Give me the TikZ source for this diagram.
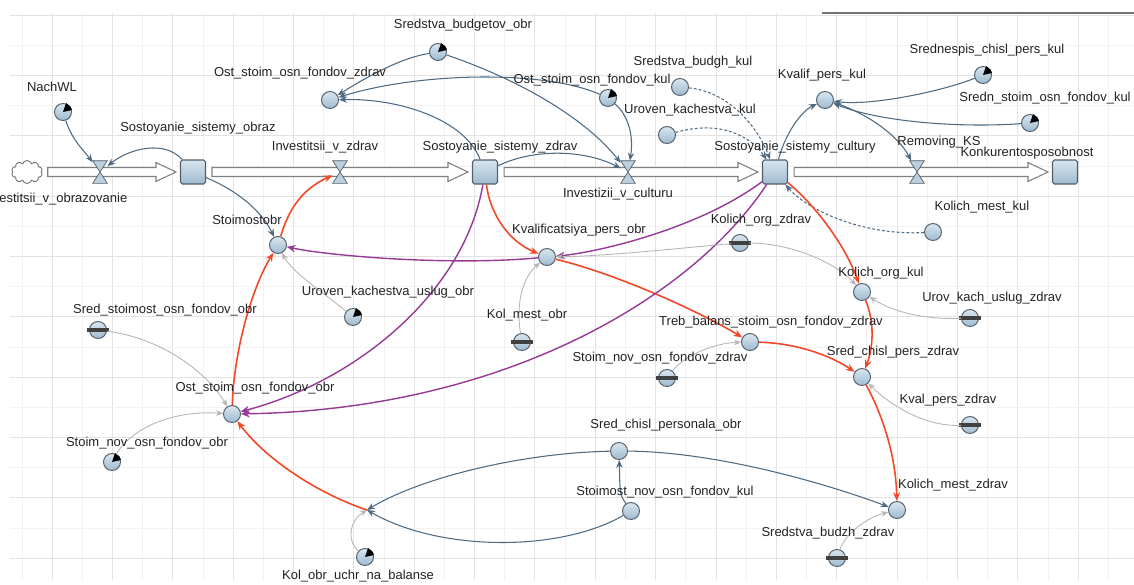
\documentclass[tikz,border=0pt]{standalone}
\usepackage{fontspec}
\setmainfont{Liberation Sans}
\usepackage{tikz}
\usetikzlibrary{arrows.meta,calc,shapes.symbols}
\definecolor{linkblue}{RGB}{78,106,130}
\definecolor{linkred}{RGB}{242,72,40}
\definecolor{linkpurple}{RGB}{150,58,150}
\definecolor{linkgrey}{RGB}{182,182,182}
\definecolor{auxtop}{RGB}{216,230,240}
\definecolor{auxbot}{RGB}{158,186,208}
\definecolor{edgegrey}{RGB}{85,95,105}
\definecolor{labelgrey}{RGB}{35,35,35}
\colorlet{valvefill}{auxbot!70!white}
\colorlet{gridmajc}{black!11}
\colorlet{gridminc}{black!5}
\tikzstyle{aux}=[circle,draw=edgegrey,line width=0.55pt,top color=auxtop,bottom color=auxbot,minimum size=0.34cm,inner sep=0pt]
\tikzstyle{stock}=[rectangle,rounded corners=1pt,draw=edgegrey,line width=0.6pt,top color=auxtop,bottom color=auxbot,minimum width=0.5cm,minimum height=0.48cm,inner sep=0pt]
\tikzstyle{valve}=[rectangle,minimum width=0.28cm,minimum height=0.44cm,inner sep=0pt]
\tikzstyle{lbl}=[inner sep=0pt,text=labelgrey,font=\fontsize{7.4}{8}\selectfont]
\tikzstyle{pipe}=[draw=black!50,fill=white,line width=0.6pt,line join=miter]
\tikzstyle{gridmaj}=[draw=gridmajc,line width=0.4pt]
\tikzstyle{gridmin}=[draw=gridminc,line width=0.3pt]
\tikzstyle{lnk}=[color=linkblue,line width=0.6pt,-{Stealth[length=4.5pt,width=3.6pt]}]
\tikzstyle{dlnk}=[lnk,dash pattern=on 1.6pt off 1.2pt]
\tikzstyle{rlnk}=[color=linkred,line width=0.9pt,-{Stealth[length=5pt,width=4pt]}]
\tikzstyle{plnk}=[color=linkpurple,line width=0.8pt,-{Stealth[length=5pt,width=4.2pt]}]
\tikzstyle{glnk}=[color=linkgrey,line width=0.5pt,-{Stealth[length=4pt,width=3.2pt]}]
% marks on the variables
\newcommand{\dynmark}[1]{\fill[black] (#1.center) -- +(9,-2) -- +(7.5,-5.5) -- +(3,-9) -- cycle;}
\newcommand{\parmbar}[1]{\draw[black!75,line width=2.1pt] ($(#1.center)+(-11,0)$) -- ($(#1.center)+(11,0)$);}
\newcommand{\hourglass}[1]{\filldraw[fill=valvefill,draw=edgegrey,line width=0.4pt] (#1.north west) -- (#1.north east) -- (#1.south west) -- (#1.south east) -- cycle;}
\newcommand{\flowpipe}[2]{%
  \draw[pipe] ($(#1.east)+(6,-4.5)$) -- ($(#2.west)+(-24,-4.5)$) -- ($(#2.west)+(-24,-9.5)$) -- ($(#2.west)+(-4,0)$) -- ($(#2.west)+(-24,9.5)$) -- ($(#2.west)+(-24,4.5)$) -- ($(#1.east)+(6,4.5)$) -- cycle;}

\begin{document}
\begin{tikzpicture}[x=0.02cm,y=-0.02cm]
\fill[white] (0,0) rectangle (1134,585);
\useasboundingbox (0,0) rectangle (1134,585);
% grid
\begin{scope}
\clip (10,13) rectangle (1134,580);
\foreach \i in {-1,...,17} {
  \draw[gridmin] ({82.17+60.35*\i},13) -- ({82.17+60.35*\i},580);
  \draw[gridmaj] ({52+60.35*\i},13) -- ({52+60.35*\i},580);}
\foreach \j in {0,...,9} {
  \draw[gridmin] (10,{45.17+60.35*\j}) -- (1134,{45.17+60.35*\j});
  \draw[gridmaj] (10,{15+60.35*\j}) -- (1134,{15+60.35*\j});}
\end{scope}
\draw[black!55,line width=1.2pt] (822,13) -- (1134,13);

% stocks and flows
\node[cloud,cloud puffs=10,aspect=1.4,draw=black!55,fill=white,line width=0.5pt,minimum width=0.62cm,minimum height=0.46cm,inner sep=0pt] (src) at (27,172) {};
\node[stock] (obraz) at (193,172) {};
\node[stock] (zdrav) at (485,172) {};
\node[stock] (cult) at (775,172) {};
\node[stock] (konk) at (1065,172) {};
\flowpipe{src}{obraz}
\flowpipe{obraz}{zdrav}
\flowpipe{zdrav}{cult}
\flowpipe{cult}{konk}
\node[valve] (vObr) at (100,172) {}; \hourglass{vObr}
\node[valve] (vZdr) at (340,172) {}; \hourglass{vZdr}
\node[valve] (vCult) at (628,172) {}; \hourglass{vCult}
\node[valve] (vKS) at (917,172) {}; \hourglass{vKS}

% variables
\node[aux] (nachwl) at (63,112) {}; \dynmark{nachwl}
\node[aux] (stoimobr) at (278,245) {};
\node[aux] (urovUslObr) at (353,317) {}; \dynmark{urovUslObr}
\node[aux] (ostZdr) at (330,100) {};
\node[aux] (sredBudObr) at (438,52) {}; \dynmark{sredBudObr}
\node[aux] (ostKul) at (608,98) {}; \dynmark{ostKul}
\node[aux] (sredBudKul) at (680,87) {};
\node[aux] (urovKul) at (667,135) {};
\node[aux] (kvalKul) at (825,100) {};
\node[aux] (srednespis) at (983,75) {}; \dynmark{srednespis}
\node[aux] (srednStoim) at (1030,123) {}; \dynmark{srednStoim}
\node[aux] (kolMestKul) at (933,232) {};
\node[aux] (kolOrgZdr) at (740,243) {}; \parmbar{kolOrgZdr}
\node[aux] (kolOrgKul) at (862,292) {};
\node[aux] (urovKachZdr) at (970,318) {}; \parmbar{urovKachZdr}
\node[aux] (trebBal) at (750,342) {};
\node[aux] (stoimNovZdr) at (667,378) {}; \parmbar{stoimNovZdr}
\node[aux] (sredChislZdr) at (862,377) {};
\node[aux] (kvalPersZdr) at (970,425) {}; \parmbar{kvalPersZdr}
\node[aux] (kolMestZdr) at (897,510) {};
\node[aux] (sredBudZdr) at (837,558) {}; \parmbar{sredBudZdr}
\node[aux] (kvalObr) at (547,257) {};
\node[aux] (kolMestObr) at (522,342) {}; \parmbar{kolMestObr}
\node[aux] (sredStoimObr) at (98,330) {}; \parmbar{sredStoimObr}
\node[aux] (ostObr) at (232,414) {};
\node[aux] (stoimNovObr) at (112,462) {}; \dynmark{stoimNovObr}
\node[aux] (kolBal) at (365,557) {}; \dynmark{kolBal}
\node[aux] (sredChislObr) at (619,451) {};
\node[aux] (stoimNovKul) at (631,511) {};
\coordinate (junction) at (367,510);

% links
\draw[lnk] (nachwl) .. controls (72,140) and (85,152) .. (vObr);
\draw[lnk] (obraz) .. controls (165,140) and (130,148) .. (vObr);
\draw[lnk] (obraz) .. controls (240,192) and (262,212) .. (stoimobr);
\draw[lnk] (sredBudObr) .. controls (400,58) and (365,78) .. (ostZdr);
\draw[lnk] (ostKul) .. controls (545,70) and (420,72) .. (ostZdr);
\draw[lnk] (zdrav) .. controls (465,120) and (400,98) .. (ostZdr);
\draw[lnk] (zdrav) .. controls (535,148) and (585,150) .. (vCult);
\draw[lnk] (sredBudObr) .. controls (520,80) and (585,118) .. (vCult);
\draw[lnk] (ostKul) .. controls (628,115) and (634,135) .. (vCult);
\draw[dlnk] (sredBudKul) .. controls (730,92) and (758,128) .. (cult);
\draw[dlnk] (urovKul) .. controls (718,120) and (750,135) .. (cult);
\draw[lnk] (cult) .. controls (785,135) and (800,112) .. (kvalKul);
\draw[lnk] (srednespis) .. controls (940,92) and (870,106) .. (kvalKul);
\draw[lnk] (srednStoim) .. controls (960,128) and (880,122) .. (kvalKul);
\draw[lnk] (kvalKul) .. controls (865,112) and (898,135) .. (vKS);
\draw[dlnk] (kolMestKul) .. controls (860,236) and (805,208) .. (cult);
\draw[lnk] (sredChislObr) .. controls (520,453) and (420,478) .. (junction);
\draw[lnk] (stoimNovKul) .. controls (560,552) and (440,552) .. (junction);
\draw[lnk] (stoimNovKul) .. controls (620,495) .. (sredChislObr);
\draw[lnk] (sredChislObr) .. controls (720,452) and (830,485) .. (kolMestZdr);
\draw[rlnk] (stoimobr) .. controls (288,212) and (300,190) .. (vZdr);
\draw[rlnk] (ostObr) .. controls (234,350) and (252,288) .. (stoimobr);
\draw[rlnk] (junction) .. controls (322,495) and (268,462) .. (ostObr);
\draw[rlnk] (zdrav) .. controls (490,215) and (510,242) .. (kvalObr);
\draw[rlnk] (kvalObr) .. controls (620,275) and (700,312) .. (trebBal);
\draw[rlnk] (trebBal) .. controls (795,343) and (830,355) .. (sredChislZdr);
\draw[rlnk] (cult) .. controls (815,205) and (845,245) .. (kolOrgKul);
\draw[rlnk] (kolOrgKul) .. controls (874,320) and (874,345) .. (sredChislZdr);
\draw[rlnk] (sredChislZdr) .. controls (885,420) and (896,460) .. (kolMestZdr);
\draw[plnk] (cult) .. controls (700,228) and (600,252) .. (kvalObr);
\draw[plnk] (kvalObr) .. controls (450,266) and (330,256) .. (stoimobr);
\draw[plnk] (zdrav) .. controls (465,290) and (360,380) .. (ostObr);
\draw[plnk] (cult) .. controls (690,300) and (500,410) .. (ostObr);
\draw[glnk] (urovUslObr) .. controls (320,290) and (292,272) .. (stoimobr);
\draw[glnk] (kolMestObr) .. controls (515,300) and (525,275) .. (kvalObr);
\draw[glnk] (kolOrgZdr) .. controls (680,248) and (610,256) .. (kvalObr);
\draw[glnk] (kolOrgZdr) .. controls (790,243) and (835,262) .. (kolOrgKul);
\draw[glnk] (urovKachZdr) .. controls (920,320) and (890,310) .. (kolOrgKul);
\draw[glnk] (stoimNovZdr) .. controls (685,355) and (715,343) .. (trebBal);
\draw[glnk] (kvalPersZdr) .. controls (925,427) and (890,405) .. (sredChislZdr);
\draw[glnk] (sredBudZdr) .. controls (845,535) and (865,518) .. (kolMestZdr);
\draw[glnk] (sredStoimObr) .. controls (160,338) and (205,370) .. (ostObr);
\draw[glnk] (stoimNovObr) .. controls (130,430) and (170,410) .. (ostObr);
\draw[glnk] (kolBal) .. controls (346,540) and (350,520) .. (junction);

% labels
\node[lbl,anchor=west] (tInvObr) at (-1,199) {estitsii\_v\_obrazovanie};
\node[lbl] (tNachWL) at (52,87) {NachWL};
\node[lbl] (tSostObr) at (198,128) {Sostoyanie\_sistemy\_obraz};
\node[lbl] (tInvZdr) at (325,147) {Investitsii\_v\_zdrav};
\node[lbl] (tStoimobr) at (247,220) {Stoimostobr};
\node[lbl] (tUrovUslObr) at (388,292) {Uroven\_kachestva\_uslug\_obr};
\node[lbl] (tOstZdr) at (300,73) {Ost\_stoim\_osn\_fondov\_zdrav};
\node[lbl] (tSredBudObr) at (463,25) {Sredstva\_budgetov\_obr};
\node[lbl] (tOstKul) at (592,80) {Ost\_stoim\_osn\_fondov\_kul};
\node[lbl] (tSredBudKul) at (693,62) {Sredstva\_budgh\_kul};
\node[lbl] (tUrovKul) at (690,110) {Uroven\_kachestva\_kul};
\node[lbl] (tSostZdr) at (500,147) {Sostoyanie\_sistemy\_zdrav};
\node[lbl] (tInvCult) at (618,194) {Investizii\_v\_culturu};
\node[lbl] (tSostCult) at (795,147) {Sostoyanie\_sistemy\_cultury};
\node[lbl] (tKvalKul) at (822,75) {Kvalif\_pers\_kul};
\node[lbl] (tSrednespis) at (987,50) {Srednespis\_chisl\_pers\_kul};
\node[lbl] (tSrednStoim) at (1045,98) {Sredn\_stoim\_osn\_fondov\_kul};
\node[lbl] (tRemKS) at (939,142) {Removing\_KS};
\node[lbl] (tKonk) at (1027,153) {Konkurentosposobnost};
\node[lbl] (tKolMestKul) at (982,207) {Kolich\_mest\_kul};
\node[lbl] (tKolOrgZdr) at (761,220) {Kolich\_org\_zdrav};
\node[lbl] (tKolOrgKul) at (881,273) {Kolich\_org\_kul};
\node[lbl] (tUrovKachZdr) at (992,298) {Urov\_kach\_uslug\_zdrav};
\node[lbl] (tTrebBal) at (771,322) {Treb\_balans\_stoim\_osn\_fondov\_zdrav};
\node[lbl] (tStoimNovZdr) at (660,358) {Stoim\_nov\_osn\_fondov\_zdrav};
\node[lbl] (tSredChislZdr) at (893,352) {Sred\_chisl\_pers\_zdrav};
\node[lbl] (tKvalPersZdr) at (948,400) {Kval\_pers\_zdrav};
\node[lbl] (tKolMestZdr) at (953,485) {Kolich\_mest\_zdrav};
\node[lbl] (tSredBudZdr) at (828,533) {Sredstva\_budzh\_zdrav};
\node[lbl] (tKvalObr) at (579,230) {Kvalificatsiya\_pers\_obr};
\node[lbl] (tKolMestObr) at (527,315) {Kol\_mest\_obr};
\node[lbl] (tSredStoimObr) at (165,310) {Sred\_stoimost\_osn\_fondov\_obr};
\node[lbl] (tOstObr) at (255,388) {Ost\_stoim\_osn\_fondov\_obr};
\node[lbl] (tStoimNovObr) at (147,443) {Stoim\_nov\_osn\_fondov\_obr};
\node[lbl] (tKolBal) at (358,576) {Kol\_obr\_uchr\_na\_balanse};
\node[lbl] (tSredChislObr) at (666,425) {Sred\_chisl\_personala\_obr};
\node[lbl] (tStoimNovKul) at (665,492) {Stoimost\_nov\_osn\_fondov\_kul};
\end{tikzpicture}
\end{document}
